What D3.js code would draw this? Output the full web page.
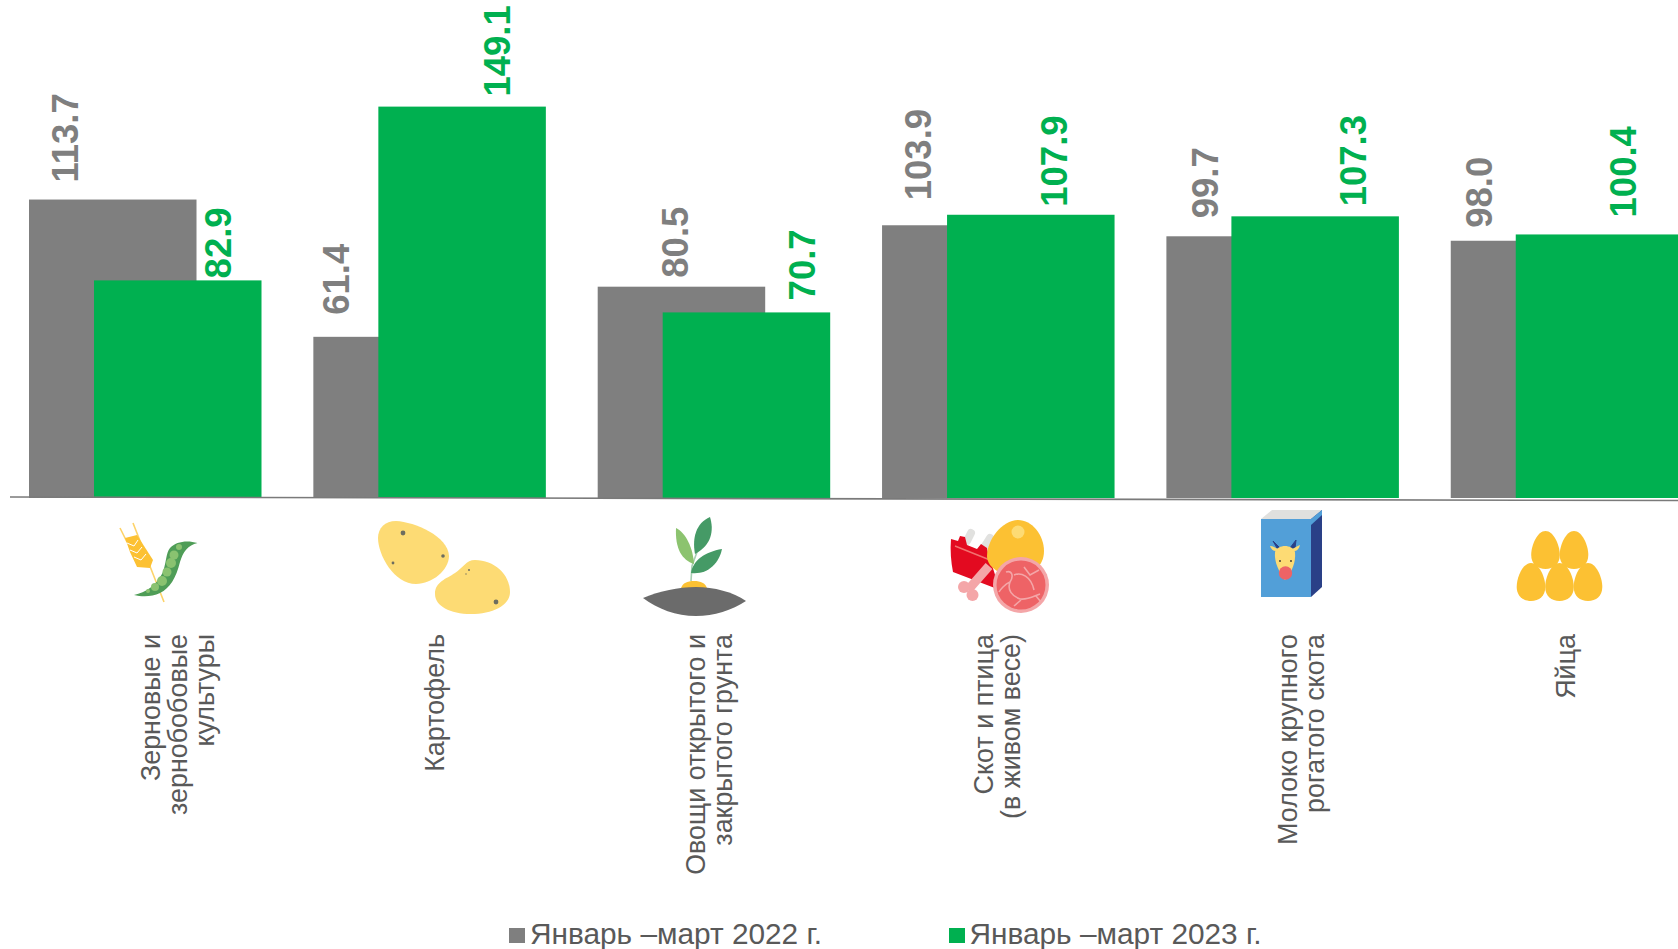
<!DOCTYPE html>
<html><head><meta charset="utf-8">
<script src="https://cdn.jsdelivr.net/npm/d3@7"></script>
<style>html,body{margin:0;padding:0;background:#fff;overflow:hidden}svg{display:block}text{font-family:"Liberation Sans",Arial,sans-serif}</style>
</head><body><svg id="c" width="1678" height="949"></svg>
<script>
const categories = [
  ["Зерновые и","зернобобовые","культуры"],
  ["Картофель"],
  ["Овощи открытого и","закрытого грунта"],
  ["Скот и птица","(в живом весе)"],
  ["Молоко крупного","рогатого скота"],
  ["Яйца"]
];
const series2022 = [113.7, 61.4, 80.5, 103.9, 99.7, 98.0];
const series2023 = [82.9, 149.1, 70.7, 107.9, 107.3, 100.4];
const seriesNames = ["Январь –март 2022 г.", "Январь –март 2023 г."];
const seriesColors = ["#7f7f7f", "#00b050"];

// Layout offsets of hand-placed data labels (relative to bar left / bar top)
const labelDx2022 = [36, 23, 78, 36, 39, 28];
const labelGap2022 = [17, 22, 9, 25, 18, 13];
const labelDx2023 = [124, 119, 140, 107, 122, 107];
const labelGap2023 = [2, 10, 12, 8, 10, 17];

const svg = d3.select("#c");
const base = 498, pxPerUnit = 2.625;
const y = d3.scaleLinear().domain([0, 100]).range([base, base - 100 * pxPerUnit]);
const x = d3.scaleLinear().domain([0, 5]).range([29, 29 + 5 * 284.35]);
const barW = 167.5, shift = 65;

const groups = svg.selectAll("g.grp").data(categories).join("g").attr("class", "grp");

groups.append("rect").attr("x", (d,i)=>x(i)).attr("width", barW)
  .attr("y",(d,i)=>y(series2022[i])).attr("height",(d,i)=>y(0)-y(series2022[i])).attr("fill",seriesColors[0]);
groups.append("rect").attr("x",(d,i)=>x(i)+shift).attr("width", barW)
  .attr("y",(d,i)=>y(series2023[i])).attr("height",(d,i)=>y(0)-y(series2023[i])).attr("fill",seriesColors[1]);

svg.append("line").attr("x1",10).attr("y1",497).attr("x2",1678).attr("y2",500.5).attr("stroke","#7a7a7a").attr("stroke-width",1.6);

function vlabel(sel, v, color, px, py){
  sel.append("text").attr("transform",`translate(${px},${py}) rotate(-90)`).attr("dy","0.35em")
    .attr("font-size",36.5).attr("font-weight","bold").attr("fill",color).text(v.toFixed(1));
}
groups.each(function(d,i){
  const g = d3.select(this);
  vlabel(g, series2022[i], seriesColors[0], x(i)+labelDx2022[i], y(series2022[i])-labelGap2022[i]);
  vlabel(g, series2023[i], seriesColors[1], x(i)+shift+labelDx2023[i], y(series2023[i])-labelGap2023[i]);
});

// Category labels
const catCenter = [178, 435, 709, 997.5, 1301, 1566];
groups.each(function(lines,i){
  const g = d3.select(this);
  const step = 27;
  lines.forEach((t,k)=>{
    const px = catCenter[i] + (k-(lines.length-1)/2)*step;
    g.append("text").attr("transform",`translate(${px},634) rotate(-90)`).attr("dy","0.35em")
      .attr("text-anchor","end").attr("font-size",26.9).attr("fill","#595959").text(t);
  });
});

// Icons
const ic = svg.append("g").attr("class","icons");
const P=(d,f,extra={})=>{const p=ic.append("path").attr("d",d).attr("fill",f);for(const k in extra)p.attr(k,extra[k]);return p;};
const C=(cx,cy,r,f)=>ic.append("circle").attr("cx",cx).attr("cy",cy).attr("r",r).attr("fill",f);

// wheat + pea
const Y="#fcc133";
P("M133 523L164 602M120 528L127 542","none",{stroke:"#fdd36a","stroke-width":1.6});
P("M125 538L137 535L153 560L150 568L137 567L130 552Z",Y);
P("M127 543L134 546L138 540M130 550L137 553L142 547M134 557L141 560L146 554","none",{stroke:"#fff","stroke-width":1});
P("M134 595C146 592 156 586 162.5 573C166 565 166 552 170 548C176 541 188 540 197.5 543C188 545 183 552 180 562C176 578 170 588 160 593C152 597 142 597 134 595Z","#4f9d57");
[[148,591,2],[155,587,4],[162,581,5],[167,572,4.5],[171,563,5],[174,555,4.5],[179,547,3]].forEach(a=>C(a[0],a[1],a[2],"#8ac270"));

// potatoes
const PT="#fddb74", DOT="#6d6d5f";
P("M396 521C415 522 448 536 449 556C449 570 432 584 416 584C394 584 378 555 378 538C378 528 385 521 396 521Z",PT);
P("M475 560C494 560 510 574 510 592C510 606 492 614 471 614C450 614 435 606 435 594C435 582 446 579 455 573C463 568 466 560 475 560Z",PT);
[[403,533,2.4],[443,556,1.8],[393,563,1.4],[496,602,2.4],[469,570,1],[466,574,.7]].forEach(a=>C(a[0],a[1],a[2],DOT));

// sprout
P("M681 588C683 583 687 581 694 581C701 581 705 583 707 588Z",Y);
P("M691 581L692 566L697 552","none",{stroke:"#a9cfb3","stroke-width":1.6});
P("M643 598C660 591 678 587 696 587C714 587 733 592 746 601C732 610 714 616 696 616C676 616 658 609 643 598Z","#6b6b6b");
P("M676 528C686 533 693 548 694 564C682 560 675 549 676 528Z","#8cc36f");
P("M710 517C714 530 712 545 695 554C692 538 696 523 710 517Z","#459a66");
P("M722 549C719 564 707 575 691 573C693 560 705 552 722 549Z","#459a66");

// meat
P("M967 541L971 533M985 546L990 538","none",{stroke:"#e1e1df","stroke-width":8,"stroke-linecap":"round"});
P("M951 539L958 541L960 536L965 537L967 545L977 549L981 544L987 548L988 553L1000 590L953 572C951 562 950 550 951 539Z","#e30a20");
P("M955 546L990 560","none",{stroke:"#f2716f","stroke-width":1.5});
P("M1018 520C1032 520 1044 535 1044 551C1044 566 1032 576 1016 576C1002 576 987 568 987 556C987 540 1002 520 1018 520Z",Y);
C(1018,532,6.5,PT);
P("M989 566L968 590","none",{stroke:"#f4a6a8","stroke-width":9});
C(964,587,6,"#f4a6a8");C(972.5,595,6,"#f4a6a8");
C(1021,585,28,"#f4a6a8");C(1021,585,24.5,"#ee6366");
P("M1006 572C1012 570 1014 576 1010 582C1007 590 1012 596 1020 599C1028 600 1034 596 1040 594M1010 582C1005 584 1000 590 999 592M1014 575C1021 572 1031 576 1034 590M1024 567L1030 575L1039 570M1021 600L1014 606M1036 596L1041 602","none",{stroke:"#f4a6a8","stroke-width":1.6});

// milk
const MB="#529fd8";
P("M1261 519L1272 510L1322 510L1311 519Z","#e0e0de");
P("M1311 519L1322 510L1322 587L1311 597Z","#2a4087");
P("M1311 519L1322 510L1322 515L1311 525Z",MB);
ic.append("rect").attr("x",1261).attr("y",519).attr("width",50).attr("height",78).attr("fill",MB);
P("M1277 548L1273 541L1280 548ZM1295 548L1296 540L1290 548Z","#2a4087",{stroke:"#2a4087","stroke-width":1});
P("M1270 546C1273 546 1276 548 1279 550L1276 551C1273 551 1271 549 1270 546ZM1300 545C1297 546 1294 548 1291 550L1294 551C1297 551 1299 549 1300 545Z",PT);
P("M1275 552C1278 544 1292 544 1295 552C1296 562 1292 572 1285 580C1279 572 1274 562 1275 552Z",PT);
C(1285.5,573,6.7,"#ee6366");
C(1280,561,.9,"#333");C(1291,561,.9,"#333");

// eggs
function egg(cx,cy){ // cy = bottom
  P(`M${cx} ${cy-38}C${cx+8} ${cy-38} ${cx+14.3} ${cy-24} ${cx+14.3} ${cy-14}C${cx+14.3} ${cy-5} ${cx+8} ${cy} ${cx} ${cy}C${cx-8} ${cy} ${cx-14.3} ${cy-5} ${cx-14.3} ${cy-14}C${cx-14.3} ${cy-24} ${cx-8} ${cy-38} ${cx} ${cy-38}Z`,Y);
}
[[1545.5,569],[1574,569],[1531,601],[1559.5,601],[1588,601]].forEach(a=>egg(a[0],a[1]));

// Legend
const lg = svg.append("g");
[[509,530],[949,969.5]].forEach((p,i)=>{
  lg.append("rect").attr("x",p[0]).attr("y",928).attr("width",16).attr("height",15).attr("fill",seriesColors[i]);
  lg.append("text").attr("x",p[1]).attr("y",943.5).attr("font-size",29.8).attr("fill","#595959").text(seriesNames[i]);
});
</script></body></html>
